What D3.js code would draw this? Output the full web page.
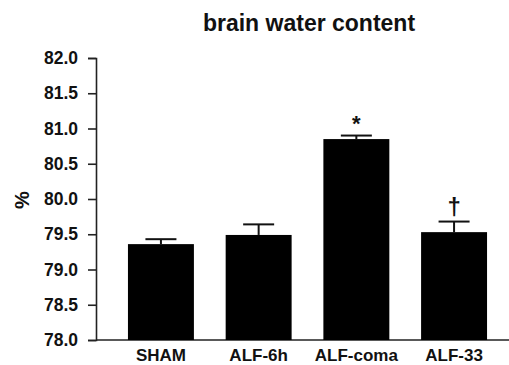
<!DOCTYPE html>
<html>
<head>
<meta charset="utf-8">
<script src="https://cdn.jsdelivr.net/npm/d3@7"></script>
<style>
  body { margin: 0; background: #fff; }
  text { font-family: "Liberation Sans", Arial, sans-serif; font-weight: bold; fill: #111; }
</style>
</head>
<body>
<div id="chart"></div>
<script>
const categories = ['SHAM', 'ALF-6h', 'ALF-coma', 'ALF-33'];
const means = [79.36, 79.49, 80.85, 79.53];
const errors = [0.07, 0.15, 0.05, 0.15];
const marks = ['', '', '*', '\u2020'];
const yTicks = [78.0, 78.5, 79.0, 79.5, 80.0, 80.5, 81.0, 81.5, 82.0];

const width = 509;
const height = 365;
const axisLeft = 96;
const axisBottom = 340;

var svg = d3.select('#chart')
  .append('svg')
  .attr('width', width)
  .attr('height', height);

// Scales
var x = d3.scaleBand()
  .domain(categories)
  .range([axisLeft, 519])
  .paddingInner(0.325)
  .paddingOuter(0.327);

var y = d3.scaleLinear()
  .domain([78, 82])
  .range([axisBottom, 58]);

// Title
svg.append('text')
  .attr('x', 309)
  .attr('y', 31)
  .attr('text-anchor', 'middle')
  .attr('font-size', '23px')
  .text('brain water content');

// Y axis
var axisY = d3.axisLeft(y)
  .tickValues(yTicks)
  .tickFormat(d3.format('.1f'))
  .tickSize(8)
  .tickPadding(10);

var gy = svg.append('g')
  .attr('transform', 'translate(' + axisLeft + ',0)')
  .call(axisY);
gy.select('.domain').attr('stroke', '#222').attr('stroke-width', 1.6);
gy.selectAll('.tick line').attr('stroke', '#222').attr('stroke-width', 1.6);
gy.selectAll('.tick text')
  .attr('font-size', '17.5px')
  .attr('font-family', '"Liberation Sans", Arial, sans-serif')
  .attr('font-weight', 'bold')
  .attr('fill', '#111');

// X axis line
svg.append('line')
  .attr('x1', axisLeft)
  .attr('x2', width)
  .attr('y1', axisBottom)
  .attr('y2', axisBottom)
  .attr('stroke', '#222')
  .attr('stroke-width', 1.6);

// Y label
svg.append('text')
  .attr('transform', 'translate(29,200) rotate(-90)')
  .attr('text-anchor', 'middle')
  .attr('font-size', '20px')
  .text('%');

// Bars
svg.selectAll('rect.bar')
  .data(means)
  .enter()
  .append('rect')
  .attr('class', 'bar')
  .attr('x', function (d, i) { return x(categories[i]); })
  .attr('y', function (d) { return y(d); })
  .attr('width', x.bandwidth())
  .attr('height', function (d) { return axisBottom - y(d); })
  .attr('fill', '#000');

// Error bars
var capHalf = 15.5;
var err = svg.selectAll('g.err')
  .data(means)
  .enter()
  .append('g')
  .attr('class', 'err');

err.append('line')
  .attr('x1', function (d, i) { return x(categories[i]) + x.bandwidth() / 2; })
  .attr('x2', function (d, i) { return x(categories[i]) + x.bandwidth() / 2; })
  .attr('y1', function (d) { return y(d); })
  .attr('y2', function (d, i) { return y(d + errors[i]); })
  .attr('stroke', '#111')
  .attr('stroke-width', 2);

err.append('line')
  .attr('x1', function (d, i) { return x(categories[i]) + x.bandwidth() / 2 - capHalf; })
  .attr('x2', function (d, i) { return x(categories[i]) + x.bandwidth() / 2 + capHalf; })
  .attr('y1', function (d, i) { return y(d + errors[i]); })
  .attr('y2', function (d, i) { return y(d + errors[i]); })
  .attr('stroke', '#111')
  .attr('stroke-width', 2);

// Significance marks
svg.selectAll('text.mark')
  .data(means)
  .enter()
  .append('text')
  .attr('class', 'mark')
  .attr('x', function (d, i) { return x(categories[i]) + x.bandwidth() / 2; })
  .attr('y', function (d, i) { return y(d + errors[i]) - (marks[i] === '*' ? 5 : 7); })
  .attr('text-anchor', 'middle')
  .attr('font-size', function (d, i) { return marks[i] === '*' ? '22px' : '24px'; })
  .attr('font-weight', 'normal')
  .text(function (d, i) { return marks[i]; });

// Category labels
svg.selectAll('text.cat')
  .data(categories)
  .enter()
  .append('text')
  .attr('class', 'cat')
  .attr('x', function (d) { return x(d) + x.bandwidth() / 2; })
  .attr('y', 361)
  .attr('text-anchor', 'middle')
  .attr('font-size', '17px')
  .text(function (d) { return d; });
</script>
</body>
</html>
